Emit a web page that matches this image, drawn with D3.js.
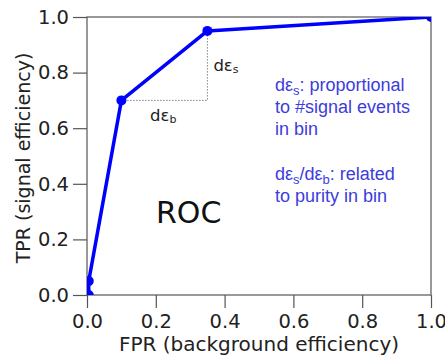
<!DOCTYPE html>
<html>
<head>
<meta charset="utf-8">
<script src="https://cdn.jsdelivr.net/npm/d3@7"></script>
<style>
body { margin: 0; background: #fff; }
svg { display: block; font-family: "DejaVu Sans", sans-serif; }
</style>
</head>
<body>
<div id="chart"></div>
<script>
// ROC points
var fpr = [0.005, 0.005, 0.1, 0.35, 1.0];
var tpr = [0.0, 0.05, 0.7, 0.95, 1.0];
var ticks = [0.0, 0.2, 0.4, 0.6, 0.8, 1.0];
var noteLines = [
  ["dε", "s", ": proportional"],
  ["to #signal events"],
  ["in bin"],
  [],
  ["dε", "s", "/dε", "b", ": related"],
  ["to purity in bin"]
];

var width = 445, height = 355;
var margin = {left: 87, right: 14, top: 17, bottom: 60};

var svg = d3.select("#chart").append("svg")
  .attr("width", width)
  .attr("height", height);

var x = d3.scaleLinear().domain([0, 1]).range([margin.left, width - margin.right]);
var y = d3.scaleLinear().domain([0, 1]).range([height - margin.bottom, margin.top]);

svg.append("clipPath").attr("id", "clip")
  .append("rect")
  .attr("x", x(0)).attr("y", y(1))
  .attr("width", x(1) - x(0)).attr("height", y(0) - y(1));

// frame
svg.append("rect")
  .attr("x", x(0)).attr("y", y(1))
  .attr("width", x(1) - x(0)).attr("height", y(0) - y(1))
  .attr("fill", "none").attr("stroke", "#555").attr("stroke-width", 1.2);

var xAxis = svg.append("g")
  .attr("transform", "translate(0," + y(0) + ")")
  .call(d3.axisBottom(x).tickValues(ticks).tickFormat(d3.format(".1f")).tickSize(13).tickPadding(6));
var yAxis = svg.append("g")
  .attr("transform", "translate(" + x(0) + ",0)")
  .call(d3.axisLeft(y).tickValues(ticks).tickFormat(d3.format(".1f")).tickSize(14).tickPadding(4));

[xAxis, yAxis].forEach(function(a) {
  a.select(".domain").remove();
  a.selectAll(".tick line").attr("stroke", "#555").attr("stroke-width", 1.2);
  a.selectAll(".tick text")
    .attr("font-family", "DejaVu Sans, sans-serif")
    .attr("font-size", 19.5).attr("fill", "#222");
});

// axis labels
svg.append("text")
  .attr("x", (x(0) + x(1)) / 2).attr("y", 351)
  .attr("text-anchor", "middle").attr("font-size", 20).attr("fill", "#222")
  .text("FPR (background efficiency)");
svg.append("text")
  .attr("transform", "translate(30," + 158 + ") rotate(-90)")
  .attr("text-anchor", "middle").attr("font-size", 19).attr("fill", "#222")
  .text("TPR (signal efficiency)");

// dotted guides for d-eps
var plot = svg.append("g").attr("clip-path", "url(#clip)");
plot.append("path")
  .attr("d", "M" + x(fpr[2]) + "," + y(tpr[2]) + "H" + x(fpr[3]) + "V" + y(tpr[3]))
  .attr("fill", "none").attr("stroke", "#444").attr("stroke-width", 1)
  .attr("stroke-dasharray", "1,2");

var pts = fpr.map(function(d, i) { return [d, tpr[i]]; });
plot.append("path")
  .datum(pts)
  .attr("d", d3.line().x(function(d) { return x(d[0]); }).y(function(d) { return y(d[1]); }))
  .attr("fill", "none").attr("stroke", "#0000ff").attr("stroke-width", 3.5)
  .attr("stroke-linejoin", "round");
plot.selectAll("circle").data(pts).enter().append("circle")
  .attr("cx", function(d) { return x(d[0]); })
  .attr("cy", function(d) { return y(d[1]); })
  .attr("r", 5).attr("fill", "#0000ff");

// d-eps labels
function epsLabel(px, py, sub) {
  var t = svg.append("text").attr("x", px).attr("y", py)
    .attr("font-size", 16.5).attr("fill", "#222");
  t.append("tspan").text("dε");
  t.append("tspan").attr("font-size", 11).attr("dy", 2).text(sub);
}
epsLabel(x(fpr[3]) + 6, 71, "s");
epsLabel(150, 121, "b");

svg.append("text")
  .attr("x", 156).attr("y", 223)
  .attr("font-size", 30).attr("fill", "#111")
  .text("ROC");

// blue notes
var note = svg.append("g")
  .attr("font-family", "Liberation Sans, Arial, sans-serif")
  .attr("font-size", 18).attr("fill", "#3c3cdc");
noteLines.forEach(function(parts, i) {
  if (!parts.length) return;
  var t = note.append("text").attr("x", 275).attr("y", 91 + i * 22.2);
  parts.forEach(function(p, j) {
    var isSub = (p === "s" || p === "b");
    var ts = t.append("tspan").text(p);
    if (isSub) ts.attr("font-size", 13).attr("dy", 4);
    else if (j > 0) ts.attr("dy", -4);
  });
});
</script>
</body>
</html>
